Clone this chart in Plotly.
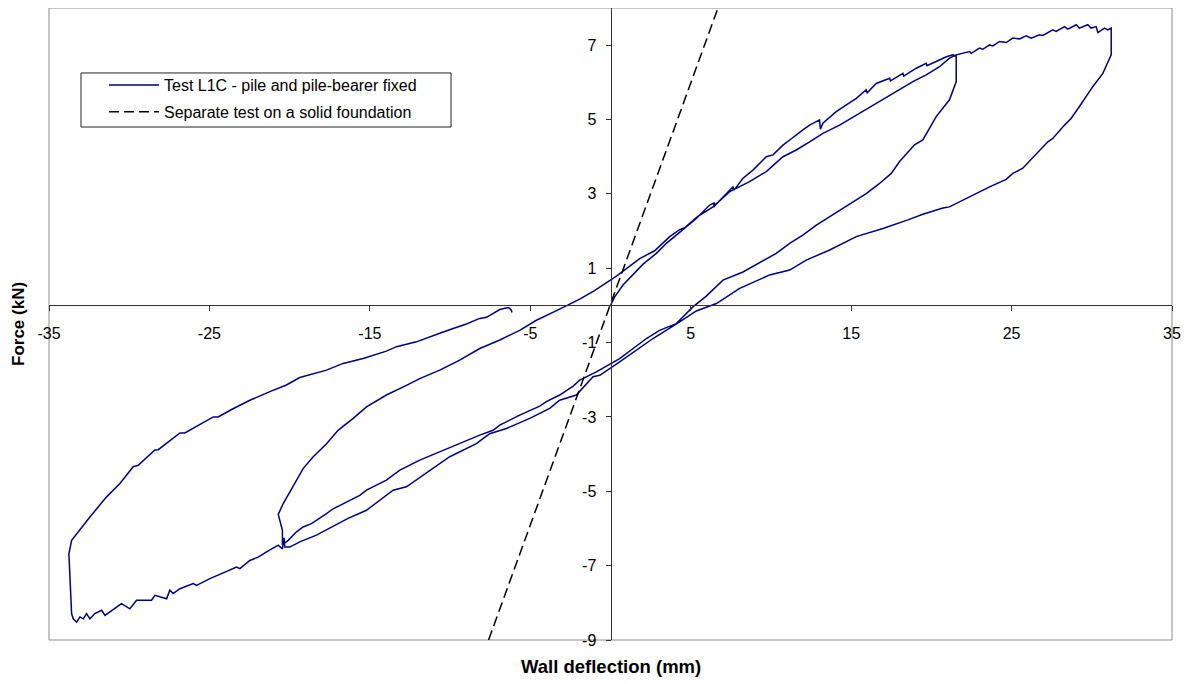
import plotly.graph_objects as go

# ---- Data ----
# Hysteresis curve: wall deflection (mm) vs force (kN), in test order
deflection_mm = [
    # initial loading
    0.0, 0.26, 0.78, 1.40, 2.03, 2.86, 3.48, 4.10, 4.62, 5.35, 6.18, 6.49, 6.43, 7.01, 7.63, 7.70,
    8.26, 8.88, 9.71, 10.13, 10.75, 11.17, 11.79, 11.99, 12.41, 13.03, 13.08, 13.24, 14.07, 14.70,
    15.32, 15.94, 16.00, 16.56, 17.40, 17.45, 18.23, 18.28, 19.06, 19.68, 19.72, 20.30, 20.93, 21.34, 21.55,
    # drop + unloading, cycle 1
    21.55, 21.13, 20.30, 19.47, 18.95, 18.02, 17.50, 16.77, 15.94, 14.49, 13.66, 12.83, 11.99, 11.17,
    10.33, 9.40, 8.26, 7.01, 5.97, 5.14, 4.10, 3.06, 2.24, 0.57, -0.26, -0.88, -1.92, -2.33, -3.17,
    -4.00, -4.41, -5.66, -6.90, -7.32, -8.15, -9.40, -10.85, -11.89, -13.13, -13.97, -15.21, -15.63,
    -17.29, -17.70, -18.64, -19.16, -19.57, -19.88, -20.09, -20.30, -20.45,
    # reloading, cycle 1, then envelope to peak
    -20.45, -20.71, -20.40, -19.78, -19.16, -18.53, -17.70, -16.98, -16.04, -15.21, -13.97, -12.72,
    -11.89, -10.64, -9.40, -8.15, -6.90, -5.66, -4.62, -3.17, -1.92, -1.00, 0.0, 0.37, 1.82, 2.75,
    3.69, 4.31, 4.62, 5.40, 6.39, 7.43, 8.67, 9.71, 10.75, 11.58, 12.41, 13.24, 14.28, 15.32, 16.56,
    17.81, 18.85, 19.68, 20.51, 21.13, 21.55,
    22.38, 22.49, 23.00, 23.21, 23.63, 23.83, 24.25, 24.66, 25.08, 25.50, 25.91, 26.22, 26.74, 26.95,
    27.57, 27.78, 28.30, 28.51, 29.03, 29.23, 29.75, 29.96, 30.27, 30.38, 30.79, 31.00, 31.21,
    # drop + unloading, cycle 2
    31.21, 30.69, 30.07, 29.23, 28.71, 28.30, 27.57, 27.26, 26.33, 25.70, 25.08, 24.66, 23.63, 22.38,
    21.13, 20.72, 19.47, 18.54, 18.02, 16.98, 15.32, 13.66, 12.20, 11.17, 9.92, 8.05, 6.60, 5.35,
    4.31, 2.65, 0.57, -0.67, -1.09, -2.13, -3.17, -3.79, -5.03, -6.49, -7.53, -8.36, -10.02, -11.68,
    -12.72, -13.55, -15.21, -16.36, -17.50, -18.33, -19.37, -19.99, -20.30, -20.35, -20.45, -20.71,
    -21.44, -21.96, -22.48, -23.10, -23.31, -24.25, -24.97, -25.80, -26.01, -26.84, -27.26, -27.47,
    -27.67, -28.40, -28.61, -29.54, -29.96, -30.48, -31.51, -31.72, -32.14, -32.45, -32.66, -32.86,
    -33.07, -33.28, -33.49, -33.59,
    # reloading, cycle 2
    -33.69, -33.76, -33.59, -32.45, -31.41, -30.58, -29.75, -29.44, -28.40, -28.19, -26.84, -26.53,
    -24.76, -24.45, -23.62, -22.48, -21.23, -20.20, -19.37, -17.70, -16.67, -15.42, -13.97, -13.34,
    -12.10, -10.85, -10.64, -9.81, -8.98, -8.15, -7.73, -6.90, -6.38, -6.28, -6.18, -6.14,
]
force_kN = [
    # initial loading
    0.0, 0.23, 0.55, 0.82, 1.11, 1.40, 1.67, 1.89, 2.07, 2.34, 2.70, 2.76, 2.65, 2.92, 3.19, 3.10,
    3.42, 3.64, 4.00, 4.05, 4.31, 4.45, 4.67, 4.72, 4.85, 4.99, 4.74, 4.90, 5.21, 5.39,
    5.57, 5.80, 5.72, 5.97, 6.11, 6.04, 6.24, 6.17, 6.38, 6.51, 6.45, 6.56, 6.69, 6.74, 6.71,
    # drop + unloading, cycle 1
    6.02, 5.53, 5.08, 4.45, 4.32, 3.87, 3.55, 3.28, 3.01, 2.61, 2.39, 2.16, 1.89, 1.67,
    1.40, 1.17, 0.90, 0.68, 0.25, -0.04, -0.49, -0.67, -0.89, -1.43, -1.63, -1.79, -2.01, -2.17, -2.41,
    -2.59, -2.71, -2.95, -3.22, -3.36, -3.49, -3.72, -3.98, -4.16, -4.43, -4.70, -4.97, -5.11,
    -5.47, -5.60, -5.87, -5.96, -6.09, -6.23, -6.32, -6.39, -6.42,
    # reloading, cycle 1, then envelope to peak
    -6.05, -5.62, -5.33, -4.88, -4.39, -4.07, -3.72, -3.36, -3.04, -2.73, -2.41, -2.15,
    -1.97, -1.74, -1.47, -1.16, -0.93, -0.67, -0.40, -0.10, 0.17, 0.40, 0.70, 0.79, 1.26, 1.47,
    1.85, 2.04, 2.09, 2.38, 2.65, 3.06, 3.33, 3.60, 4.00, 4.18, 4.40, 4.63, 4.85, 5.12, 5.44,
    5.75, 6.02, 6.20, 6.42, 6.65, 6.74,
    6.83, 6.78, 6.92, 6.89, 7.01, 6.98, 7.10, 7.07, 7.19, 7.17, 7.25, 7.19, 7.28, 7.26,
    7.41, 7.37, 7.50, 7.43, 7.55, 7.46, 7.55, 7.46, 7.50, 7.34, 7.46, 7.41, 7.46,
    # drop + unloading, cycle 2
    6.74, 6.24, 5.89, 5.35, 5.03, 4.85, 4.49, 4.40, 3.96, 3.69, 3.55, 3.39, 3.19, 2.92,
    2.65, 2.62, 2.45, 2.30, 2.22, 2.07, 1.85, 1.49, 1.22, 0.95, 0.82, 0.46, 0.05, -0.15,
    -0.44, -0.89, -1.52, -1.88, -1.92, -2.41, -2.55, -2.77, -3.04, -3.31, -3.45, -3.72, -4.07, -4.57,
    -4.88, -4.97, -5.51, -5.73, -6.00, -6.18, -6.36, -6.50, -6.50, -6.25, -6.55, -6.45,
    -6.63, -6.77, -6.86, -7.08, -7.04, -7.21, -7.35, -7.53, -7.48, -7.62, -7.75, -7.66,
    -7.89, -7.80, -7.93, -7.93, -8.16, -8.02, -8.34, -8.20, -8.29, -8.43, -8.29, -8.43,
    -8.38, -8.52, -8.43, -8.29,
    # reloading, cycle 2
    -7.04, -6.68, -6.32, -5.69, -5.15, -4.79, -4.34, -4.30, -3.89, -3.88, -3.43, -3.43,
    -3.00, -3.00, -2.80, -2.55, -2.32, -2.14, -1.94, -1.74, -1.56, -1.43, -1.23, -1.11,
    -0.98, -0.80, -0.75, -0.62, -0.50, -0.35, -0.32, -0.11, -0.06, -0.08, -0.13, -0.19,
]

# Separate test on a solid foundation (straight line)
solid_deflection_mm = [-7.6, 6.7]
solid_force_kN = [-9.0, 8.0]

x_ticks = [-35, -25, -15, -5, 5, 15, 25, 35]
y_ticks = [-9, -7, -5, -3, -1, 1, 3, 5, 7]

series_names = ["Test L1C - pile and pile-bearer fixed",
                "Separate test on a solid foundation"]

FONT = "Liberation Sans, Arial, sans-serif"

fig = go.Figure()
fig.add_trace(go.Scatter(
    x=deflection_mm, y=force_kN, mode="lines", name=series_names[0],
    legendgroup="a",
    line=dict(color="#000080", width=1.5), hoverinfo="skip"))
fig.add_trace(go.Scatter(
    x=solid_deflection_mm, y=solid_force_kN, mode="lines", name=series_names[1],
    legendgroup="b",
    line=dict(color="#000000", width=1.5, dash="10px,5px"), hoverinfo="skip"))

fig.update_layout(
    width=1183, height=676,
    margin=dict(l=41, r=19, t=0, b=44),
    paper_bgcolor="white", plot_bgcolor="white",
    font=dict(family=FONT, size=16, color="black"),
    showlegend=True,
    legend=dict(x=0.0285, y=0.905, xanchor="left", yanchor="top",
                borderwidth=0, bgcolor="rgba(0,0,0,0)",
                font=dict(family=FONT, size=16, color="black"),
                tracegroupgap=3, itemwidth=50, indentation=23),
    xaxis=dict(range=[-35, 35], tickvals=x_ticks, ticktext=[str(v) for v in x_ticks],
               ticks="outside", ticklen=5, tickcolor="#333333",
               showline=True, linecolor="#333333", linewidth=1,
               showgrid=False, zeroline=False, anchor="free", position=9 / 17,
               ticklabelstandoff=8,
               tickfont=dict(family=FONT, size=16, color="black")),
    yaxis=dict(range=[-9, 8], tickvals=y_ticks, ticktext=[str(v) for v in y_ticks],
               ticks="outside", ticklen=5, tickcolor="#333333",
               showline=True, linecolor="#333333", linewidth=1,
               showgrid=False, zeroline=False, anchor="free", position=0.5,
               ticklabelstandoff=6,
               tickfont=dict(family=FONT, size=16, color="black")),
    shapes=[
        dict(type="rect", xref="paper", yref="paper", x0=0, y0=0, x1=1, y1=1,
             line=dict(color="#8c8c8c", width=1), layer="below"),
        dict(type="rect", xref="paper", yref="paper", x0=0.0285, y0=0.8117, x1=0.358, y1=0.8972,
             line=dict(color="#222222", width=1), fillcolor="white", layer="below"),
    ],
    annotations=[
        dict(text="<b>Force (kN)</b>", xref="paper", yref="paper", x=-0.0276, y=0.5,
             textangle=-90, showarrow=False, xanchor="center", yanchor="middle",
             font=dict(family=FONT, size=17, color="black")),
        dict(text="<b>Wall deflection (mm)</b>", xref="paper", yref="paper", x=0.5, y=-0.0427,
             showarrow=False, xanchor="center", yanchor="middle",
             font=dict(family=FONT, size=18.5, color="black")),
    ],
)

fig.write_html("out.html")
